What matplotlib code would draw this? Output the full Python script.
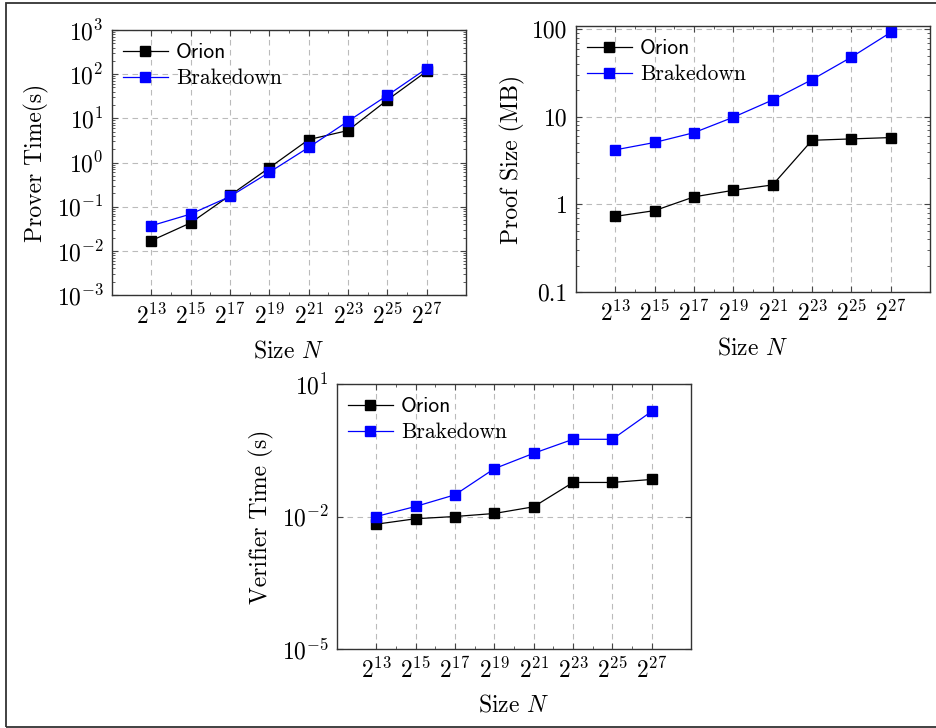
import numpy as np
import matplotlib
matplotlib.use('Agg')
import matplotlib.pyplot as plt
from matplotlib.patches import Rectangle
from matplotlib.ticker import FixedLocator, FixedFormatter, NullFormatter, LogLocator

plt.rcParams['font.family'] = 'serif'
plt.rcParams['font.serif'] = ['cmr10']
plt.rcParams['mathtext.fontset'] = 'cm'
plt.rcParams['axes.formatter.use_mathtext'] = True

# data
exps = [13, 15, 17, 19, 21, 23, 25, 27]
sizes = [2 ** e for e in exps]
xlabels = ['$2^{%d}$' % e for e in exps]

prover_orion = [0.017, 0.043, 0.18, 0.76, 3.3, 5.3, 26, 116]
prover_brake = [0.037, 0.068, 0.17, 0.60, 2.2, 8.6, 33, 134]

proof_orion = [0.73, 0.85, 1.22, 1.45, 1.67, 5.4, 5.6, 5.8]
proof_brake = [4.2, 5.1, 6.6, 9.9, 15.6, 26.6, 48, 92]

verif_orion = [0.0067, 0.0089, 0.010, 0.0117, 0.0166, 0.059, 0.059, 0.069]
verif_brake = [0.010, 0.0169, 0.031, 0.121, 0.27, 0.56, 0.56, 2.4]

W, H = 936, 728
fig = plt.figure(figsize=(W / 100, H / 100), dpi=100)


def px_axes(l, t, r, b):
    return fig.add_axes([l / W, 1 - b / H, (r - l) / W, (b - t) / H])


def style(ax, ylab, ylab_x):
    ax.set_xscale('log', base=2)
    ax.set_xlim(2 ** 11, 2 ** 29)
    ax.xaxis.set_major_locator(FixedLocator(sizes))
    ax.xaxis.set_major_formatter(FixedFormatter(xlabels))
    ax.xaxis.set_minor_locator(FixedLocator([2 ** e for e in range(14, 27, 2)]))
    ax.xaxis.set_minor_formatter(NullFormatter())
    ax.tick_params(which='both', direction='in', top=True, right=True,
                   color='#444444', labelsize=17)
    ax.tick_params(which='major', length=4, width=0.8, pad=6)
    ax.tick_params(which='minor', length=2.5, width=0.6)
    ax.grid(True, which='major', color='#bbbbbb', linestyle=(0, (5, 4)), lw=0.8)
    for s in ax.spines.values():
        s.set_color('#333333')
        s.set_linewidth(1.0)
    ax.set_xlabel('Size $N$', fontsize=17, va='center')
    ax.xaxis.set_label_coords(0.5, -0.213)
    ax.set_ylabel(ylab, fontsize=17, va='center')
    ax.yaxis.set_label_coords(ylab_x, 0.5)


def draw(ax, orion, brake):
    ax.plot(sizes, orion, color='black', lw=0.9, marker='s', ms=7, label='Orion')
    ax.plot(sizes, brake, color='#0000ff', lw=0.9, marker='s', ms=7, label='Brakedown')
    leg = ax.legend(loc='upper left', bbox_to_anchor=(0, 0.99), frameon=False,
                    fontsize=15.5, handlelength=2.1, handletextpad=0.36,
                    labelspacing=0.3, borderpad=0.2, borderaxespad=0.3)
    leg.get_texts()[0].set_fontfamily('cmss10')


# Prover time
ax1 = px_axes(112, 30, 466, 295)
draw(ax1, prover_orion, prover_brake)
ax1.set_yscale('log')
ax1.set_ylim(1e-3, 1e3)
ax1.yaxis.set_major_locator(FixedLocator([10.0 ** k for k in range(-3, 4)]))
ax1.yaxis.set_minor_locator(LogLocator(base=10, subs=np.arange(2, 10), numticks=20))
ax1.yaxis.set_minor_formatter(NullFormatter())
style(ax1, 'Prover Time(s)', -0.212)

# Proof size
ax2 = px_axes(576, 26, 930, 292)
draw(ax2, proof_orion, proof_brake)
ax2.set_yscale('log')
ax2.set_ylim(0.1, 109)
ax2.yaxis.set_major_locator(FixedLocator([0.1, 1, 10, 100]))
ax2.yaxis.set_major_formatter(FixedFormatter(['0.1', '1', '10', '100']))
ax2.yaxis.set_minor_locator(LogLocator(base=10, subs=np.arange(2, 10), numticks=20))
ax2.yaxis.set_minor_formatter(NullFormatter())
style(ax2, 'Proof Size (MB)', -0.179)

# Verifier time
ax3 = px_axes(337, 384, 691, 649)
draw(ax3, verif_orion, verif_brake)
ax3.set_yscale('log')
ax3.set_ylim(1e-5, 10)
ax3.yaxis.set_major_locator(FixedLocator([1e-5, 1e-2, 10]))
ax3.yaxis.set_minor_locator(FixedLocator([]))
style(ax3, 'Verifier Time (s)', -0.213)

fig.add_artist(Rectangle((5.5 / W, 1.5 / H), 1.2, 1 - 4.5 / H, fill=False,
                         transform=fig.transFigure, lw=1.3, color='#333333'))

fig.savefig('out.png', dpi=100)
